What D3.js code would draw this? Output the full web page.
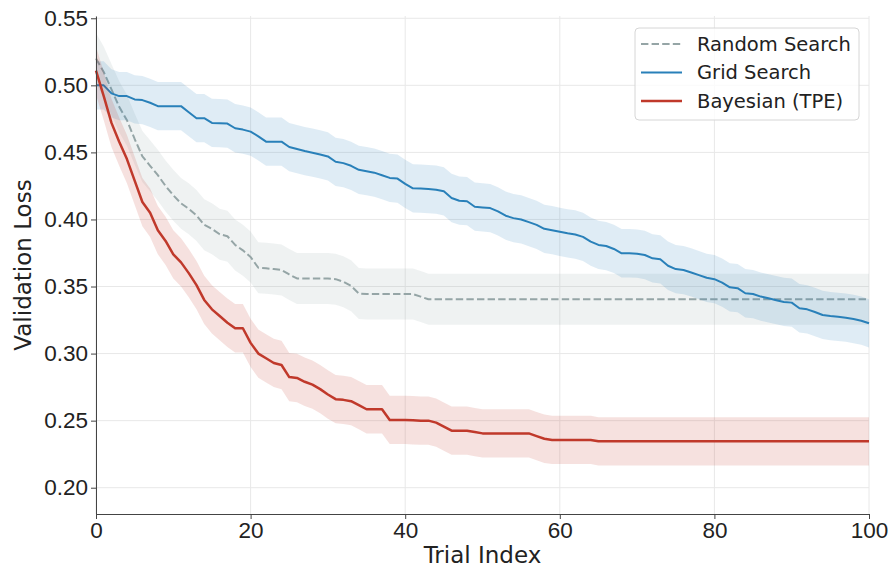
<!DOCTYPE html>
<html>
<head>
<meta charset="utf-8">
<script src="https://cdn.jsdelivr.net/npm/d3@7"></script>
<style>
  body { margin: 0; background: #fff; }
  svg { display: block; font-family: "DejaVu Sans", sans-serif; }
  .grid line { stroke: #e8e8e8; stroke-width: 1; }
  .axis path, .axis line { stroke: #444; }
  .axis text { fill: #222; font-size: 22.5px; }
</style>
</head>
<body>
<div id="chart"></div>
<script>
// Best validation loss so far, one value per trial (0..100)
var trials = d3.range(0, 101);

var randomSearch = [
  0.520, 0.510, 0.497, 0.484, 0.474, 0.460, 0.447, 0.440, 0.433, 0.425,
  0.418, 0.412, 0.408, 0.403, 0.396, 0.393, 0.389, 0.3875, 0.381, 0.377,
  0.372, 0.364, 0.3636, 0.3630, 0.3623, 0.359, 0.356, 0.356, 0.356, 0.356,
  0.356, 0.3555, 0.3535, 0.3505, 0.3448, 0.3444, 0.3444, 0.3444, 0.3444, 0.3444,
  0.3444, 0.3444, 0.3425, 0.3405, 0.3405, 0.3405, 0.3405, 0.3405, 0.3405, 0.3405,
  0.3405, 0.3405, 0.3405, 0.3405, 0.3405, 0.3405, 0.3405, 0.3405, 0.3405, 0.3405,
  0.3405, 0.3405, 0.3405, 0.3405, 0.3405, 0.3405, 0.3405, 0.3405, 0.3405, 0.3405,
  0.3405, 0.3405, 0.3405, 0.3405, 0.3405, 0.3405, 0.3405, 0.3405, 0.3405, 0.3405,
  0.3405, 0.3405, 0.3405, 0.3405, 0.3405, 0.3405, 0.3405, 0.3405, 0.3405, 0.3405,
  0.3405, 0.3405, 0.3405, 0.3405, 0.3405, 0.3405, 0.3405, 0.3405, 0.3405, 0.3405,
  0.3405
];

var gridSearch = [
  0.500, 0.500, 0.494, 0.492, 0.492, 0.4895, 0.489, 0.487, 0.4845, 0.4845,
  0.4845, 0.4845, 0.480, 0.4755, 0.4755, 0.472, 0.4718, 0.4715, 0.468, 0.467,
  0.4655, 0.462, 0.458, 0.458, 0.458, 0.454, 0.4525, 0.451, 0.4498, 0.4485,
  0.447, 0.443, 0.442, 0.440, 0.437, 0.436, 0.4349, 0.433, 0.431, 0.4305,
  0.4265, 0.4232, 0.423, 0.4227, 0.4222, 0.421, 0.416, 0.414, 0.4136, 0.4095,
  0.409, 0.4085, 0.406, 0.4028, 0.401, 0.400, 0.398, 0.396, 0.393, 0.392,
  0.3908, 0.3897, 0.3888, 0.387, 0.3835, 0.381, 0.3802, 0.378, 0.3748, 0.3748,
  0.3745, 0.3735, 0.371, 0.3703, 0.3655, 0.363, 0.3623, 0.3605, 0.3585, 0.3565,
  0.3555, 0.3529, 0.3494, 0.3488, 0.345, 0.3444, 0.3425, 0.3412, 0.3398, 0.3385,
  0.338, 0.3338, 0.333, 0.331, 0.3288, 0.328, 0.3274, 0.3268, 0.3258, 0.3245,
  0.3226
];

var bayesTPE = [
  0.511, 0.492, 0.472, 0.458, 0.445, 0.429, 0.413, 0.405, 0.392, 0.384,
  0.374, 0.368, 0.360, 0.351, 0.340, 0.333, 0.328, 0.323, 0.3189, 0.3189,
  0.308, 0.300, 0.2965, 0.293, 0.2915, 0.2825, 0.2818, 0.279, 0.2768, 0.2735,
  0.2695, 0.266, 0.2655, 0.2645, 0.2615, 0.2585, 0.2585, 0.2585, 0.2505, 0.2505,
  0.2505, 0.2503, 0.2500, 0.2500, 0.2485, 0.2455, 0.2425, 0.2425, 0.2425, 0.2415,
  0.2405, 0.2405, 0.2405, 0.2405, 0.2405, 0.2405, 0.2405, 0.2385, 0.2365, 0.2356,
  0.2356, 0.2356, 0.2356, 0.2356, 0.2356, 0.2346, 0.2346, 0.2346, 0.2346, 0.2346,
  0.2346, 0.2346, 0.2346, 0.2346, 0.2346, 0.2346, 0.2346, 0.2346, 0.2346, 0.2346,
  0.2346, 0.2346, 0.2346, 0.2346, 0.2346, 0.2346, 0.2346, 0.2346, 0.2346, 0.2346,
  0.2346, 0.2346, 0.2346, 0.2346, 0.2346, 0.2346, 0.2346, 0.2346, 0.2346, 0.2346,
  0.2346
];

// half width of the shaded band for each series
var bandWidths = [0.019, 0.018, 0.018];

var seriesNames = ['Random Search', 'Grid Search', 'Bayesian (TPE)'];
var xTicks = [0, 20, 40, 60, 80, 100];
var yTicks = [0.20, 0.25, 0.30, 0.35, 0.40, 0.45, 0.50, 0.55];

var width = 892,
    height = 572,
    margin = { left: 96, right: 23, top: 16, bottom: 58 };

var series = [
  { name: seriesNames[0], values: randomSearch, band: bandWidths[0], color: '#95a5a6', width: 2, dash: '7.4,3.2' },
  { name: seriesNames[1], values: gridSearch, band: bandWidths[1], color: '#2980b9', width: 2, dash: null },
  { name: seriesNames[2], values: bayesTPE, band: bandWidths[2], color: '#c0392b', width: 2.5, dash: null }
];

var svg = d3.select('#chart').append('svg')
  .attr('width', width)
  .attr('height', height);

var x = d3.scaleLinear()
  .domain([0, 100])
  .range([margin.left, width - margin.right]);

var y = d3.scaleLinear()
  .domain([0.1804, 0.5517])
  .range([height - margin.bottom, margin.top]);

// Grid lines
var grid = svg.append('g').attr('class', 'grid');
grid.selectAll('.gx').data(xTicks).enter()
  .append('line')
  .attr('x1', function (d) { return x(d); })
  .attr('x2', function (d) { return x(d); })
  .attr('y1', y.range()[0])
  .attr('y2', y.range()[1]);
grid.selectAll('.gy').data(yTicks).enter()
  .append('line')
  .attr('y1', function (d) { return y(d); })
  .attr('y2', function (d) { return y(d); })
  .attr('x1', x.range()[0])
  .attr('x2', x.range()[1]);

var area = d3.area()
  .x(function (d) { return x(d.t); })
  .y0(function (d) { return y(d.v - d.b); })
  .y1(function (d) { return y(d.v + d.b); });

var line = d3.line()
  .x(function (d) { return x(d.t); })
  .y(function (d) { return y(d.v); });

var plot = svg.append('g');

series.forEach(function (s) {
  var pts = trials.map(function (t, i) { return { t: t, v: s.values[i], b: s.band }; });

  plot.append('path')
    .datum(pts)
    .attr('d', area)
    .attr('fill', s.color)
    .attr('fill-opacity', 0.15)
    .attr('stroke', 'none');

  plot.append('path')
    .datum(pts)
    .attr('d', line)
    .attr('fill', 'none')
    .attr('stroke', s.color)
    .attr('stroke-width', s.width)
    .attr('stroke-dasharray', s.dash)
    .attr('stroke-linejoin', 'round');
});

// Axes
svg.append('g')
  .attr('class', 'axis')
  .attr('transform', 'translate(0,' + y.range()[0] + ')')
  .call(d3.axisBottom(x).tickValues(xTicks).tickSize(5).tickPadding(3).tickSizeOuter(0));

svg.append('g')
  .attr('class', 'axis')
  .attr('transform', 'translate(' + x.range()[0] + ',0)')
  .call(d3.axisLeft(y).tickValues(yTicks).tickFormat(d3.format('.2f')).tickSize(5).tickPadding(3).tickSizeOuter(0));

svg.append('text')
  .attr('x', (x.range()[0] + x.range()[1]) / 2)
  .attr('y', 563)
  .attr('text-anchor', 'middle')
  .style('font-size', '23px')
  .attr('fill', '#222')
  .text('Trial Index');

svg.append('text')
  .attr('transform', 'translate(31,' + ((y.range()[0] + y.range()[1]) / 2) + ') rotate(-90)')
  .attr('text-anchor', 'middle')
  .style('font-size', '23px')
  .attr('fill', '#222')
  .text('Validation Loss');

// Legend
var legend = svg.append('g').attr('transform', 'translate(635,28)');
legend.append('rect')
  .attr('width', 224)
  .attr('height', 92)
  .attr('rx', 4)
  .attr('fill', '#fff')
  .attr('fill-opacity', 0.8)
  .attr('stroke', '#d6d6d6');

var items = legend.selectAll('.item').data(series).enter()
  .append('g')
  .attr('transform', function (d, i) { return 'translate(0,' + (16 + i * 28.5) + ')'; });

items.append('line')
  .attr('x1', 6).attr('x2', 47)
  .attr('stroke', function (d) { return d.color; })
  .attr('stroke-width', function (d) { return d.width; })
  .attr('stroke-dasharray', function (d) { return d.dash; });

items.append('text')
  .attr('x', 62)
  .attr('dy', '0.35em')
  .style('font-size', '19.5px')
  .attr('fill', '#222')
  .text(function (d) { return d.name; });
</script>
</body>
</html>
